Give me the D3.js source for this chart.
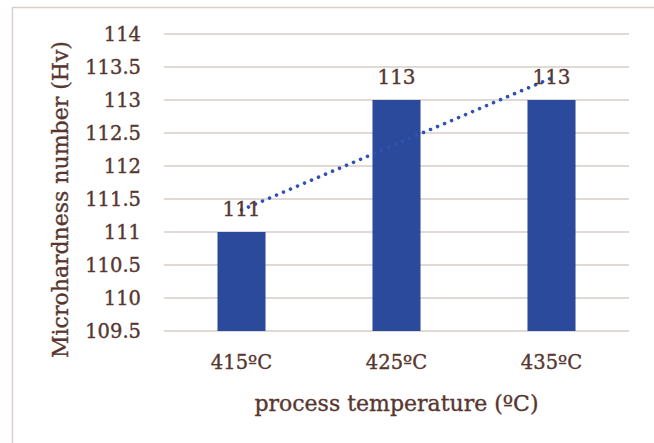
<!DOCTYPE html>
<html><head><meta charset="utf-8">
<script src="https://cdn.jsdelivr.net/npm/d3@7"></script>
<style>body{margin:0;background:#fff;} svg{display:block;} text{stroke:#573730;stroke-width:0.35px;}</style>
</head><body>
<script>
const categories = ["415ºC", "425ºC", "435ºC"];
const values = [111, 113, 113];
const yTicks = [109.5, 110, 110.5, 111, 111.5, 112, 112.5, 113, 113.5, 114];
const xTitle = "process temperature (ºC)";
const yTitle = "Microhardness number (Hv)";

const W = 654, H = 443;
const m = {left: 164, right: 25, top: 34, bottom: 112};
const textColor = "#573730";
const font = "'DejaVu Serif', serif";
const svg = d3.select("body").append("svg").attr("width", W).attr("height", H);

// outer border
svg.append("path").attr("d", `M12.5,443 V7.5 H654`).attr("fill","none").attr("stroke","#d9d0cd").attr("stroke-width",1.5);

const x = d3.scaleBand().domain(categories).range([m.left, W - m.right]).paddingInner(0.69).paddingOuter(0.345);
const y = d3.scaleLinear().domain([109.5, 114]).range([H - m.bottom, m.top]);

// gridlines
svg.append("g").selectAll("line").data(yTicks).join("line")
  .attr("x1", m.left).attr("x2", W - m.right)
  .attr("y1", d => y(d)).attr("y2", d => y(d))
  .attr("stroke", "#d6ccc8").attr("stroke-width", 1.5);

// y tick labels
svg.append("g").selectAll("text").data(yTicks).join("text")
  .attr("x", 141).attr("y", d => y(d)).attr("dy", "0.36em")
  .attr("text-anchor", "end").attr("fill", textColor)
  .style("font-family", font).style("font-size", "19.5px")
  .text(d => d3.format("")(d));

// bars
svg.append("g").selectAll("rect").data(values).join("rect")
  .attr("x", (d, i) => x(categories[i])).attr("width", x.bandwidth())
  .attr("y", d => y(d)).attr("height", d => y(109.5) - y(d))
  .attr("fill", "#2b4a9b");

// category labels
svg.append("g").selectAll("text").data(categories).join("text")
  .attr("x", d => x(d) + x.bandwidth()/2).attr("y", 369)
  .attr("text-anchor", "middle").attr("fill", textColor)
  .style("font-family", font).style("font-size", "19.5px").text(d => d);

// linear trendline
const n = values.length;
const xs = values.map((d, i) => i + 1);
const mx = d3.mean(xs), my = d3.mean(values);
const slope = d3.sum(xs.map((xi, i) => (xi - mx) * (values[i] - my))) / d3.sum(xs.map(xi => (xi - mx) ** 2));
const icpt = my - slope * mx;
const trend = [1, n].map(xi => [x(categories[xi - 1]) + x.bandwidth()/2, y(icpt + slope * xi)]);
svg.append("path").attr("d", d3.line()(trend))
  .attr("fill", "none").attr("stroke", "#2f52ad").attr("stroke-width", 3.6)
  .attr("stroke-linecap", "round").attr("stroke-dasharray", "0.01 7.6");

// data labels
svg.append("g").selectAll("text").data(values).join("text")
  .attr("x", (d, i) => x(categories[i]) + x.bandwidth()/2).attr("y", d => y(d) - 16)
  .attr("text-anchor", "middle").attr("fill", textColor)
  .style("font-family", font).style("font-size", "20px").text(d => d);

// axis titles
svg.append("text").attr("x", (m.left + W - m.right)/2).attr("y", 411)
  .attr("text-anchor", "middle").attr("fill", textColor)
  .style("font-family", font).style("font-size", "22px").text(xTitle);
svg.append("text").attr("transform", `translate(68,${(m.top + H - m.bottom)/2 + 17}) rotate(-90)`)
  .attr("text-anchor", "middle").attr("fill", textColor)
  .style("font-family", font).style("font-size", "22px").text(yTitle);
</script>
</body></html>
